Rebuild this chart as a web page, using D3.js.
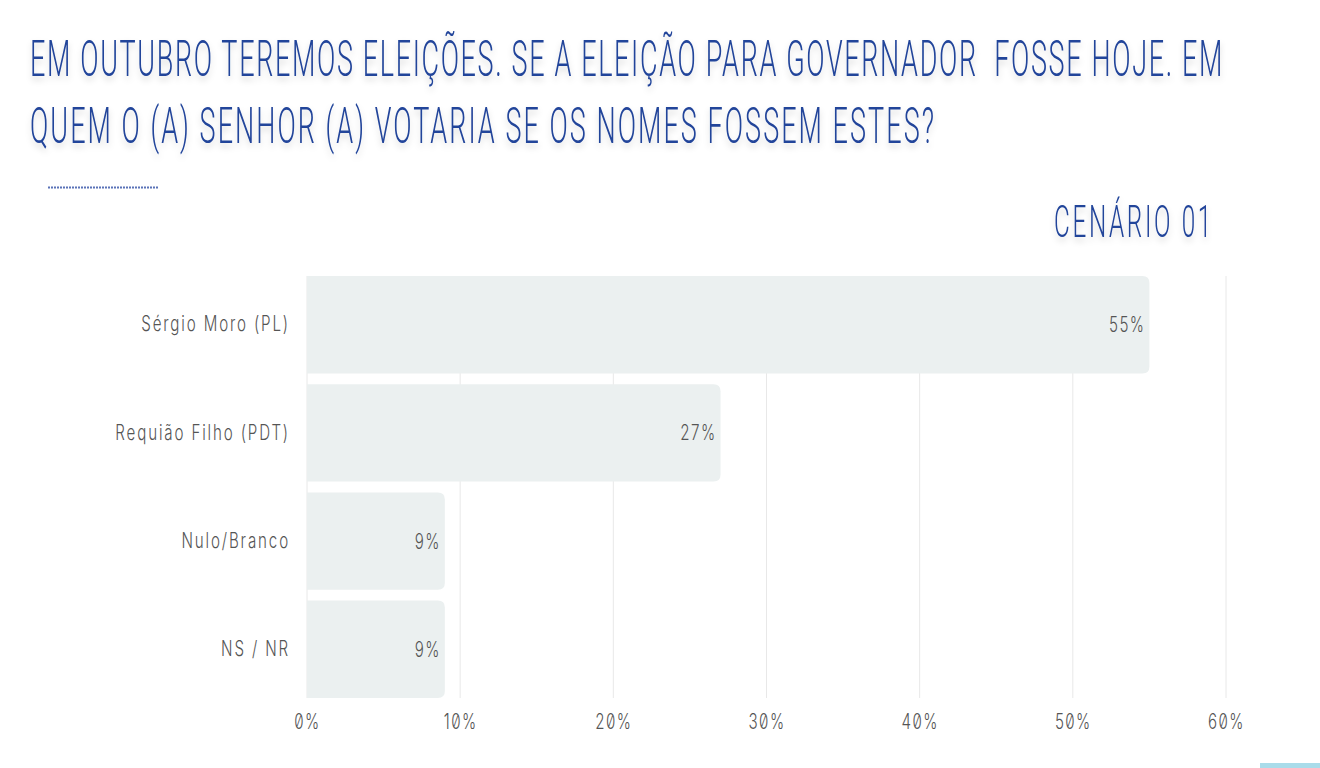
<!DOCTYPE html>
<html>
<head>
  <meta charset="utf-8">
  <title>cenario 01</title>
  <script src="https://cdn.jsdelivr.net/npm/d3@7"></script>
  <style>
    body{ margin:0; background:#fff; }
    svg{ display:block; }
    text{ white-space: pre; }
    .small{
      font-family: Inter, Roboto, sans-serif;
      font-weight: 300;
      font-size: 21px;
      font-feature-settings: "zero" 1;
    }
  </style>
</head>
<body>
<div id="container"></div>
<script>
  // dados
  var categories = ["Sérgio Moro (PL)", "Requião Filho (PDT)", "Nulo/Branco", "NS / NR"];
  var values = [55, 27, 9, 9];
  var ticks = [0, 10, 20, 30, 40, 50, 60];
  var titleLines = ["EM OUTUBRO TEREMOS ELEIÇÕES. SE A ELEIÇÃO PARA GOVERNADOR  FOSSE HOJE. EM",
                    "QUEM O (A) SENHOR (A) VOTARIA SE OS NOMES FOSSEM ESTES?"];
  var subtitle = "CENÁRIO 01";

  var W = 1320, H = 768;
  var margin = {top: 276, right: 94, bottom: 70, left: 307};
  var width = W - margin.left - margin.right,
      height = H - margin.top - margin.bottom;
  var sx = 0.72;   // fonte estreita: glifos comprimidos na horizontal

  var svg = d3.select("#container").append("svg")
      .attr("width", W).attr("height", H);

  var defs = svg.append("defs");
  var f = defs.append("filter").attr("id","shadow")
      .attr("filterUnits","userSpaceOnUse")
      .attr("x",0).attr("y",0).attr("width",W).attr("height",300);
  f.append("feDropShadow").attr("dx",0).attr("dy",4).attr("stdDeviation",3)
      .attr("flood-color","#000").attr("flood-opacity",0.16);

  var blue = "#21449a";

  // ajusta o espaçamento para a largura desejada
  function fit(node, target, s){
    var t = d3.select(node).style("letter-spacing","0px");
    var w = node.getComputedTextLength();
    var n = t.text().length;
    var ls = (target / s - w) / n;
    t.style("letter-spacing", ls + "px");
  }

  // titulo
  var tw = [1194, 906];
  var tg = svg.append("g").attr("filter","url(#shadow)");
  tg.selectAll("text.title").data(titleLines).enter().append("text")
      .attr("class","title")
      .attr("transform", function(d,i){ return "translate(30," + (76 + i*67) + ") scale(0.54,1)"; })
      .style("font-family","Roboto")
      .style("font-weight","300")
      .style("font-size","50px")
      .attr("fill", blue)
      .text(function(d){ return d; })
      .each(function(d,i){ fit(this, tw[i], 0.54); });

  tg.append("text")
    .attr("transform","translate(1054,237) scale(0.54,1)")
    .style("font-family","Roboto")
    .style("font-weight","300")
    .style("font-size","45px")
    .attr("fill", blue)
    .text(subtitle)
    .each(function(){ fit(this, 160, 0.54); });

  svg.append("line")
    .attr("x1",48).attr("x2",158).attr("y1",187.5).attr("y2",187.5)
    .attr("stroke","#5a73b8").attr("stroke-width",2)
    .attr("stroke-dasharray","2,1");

  var xScale = d3.scaleLinear().domain([0,60]).range([0,width]);
  var yScale = d3.scaleBand().domain(categories).range([0,height]).paddingInner(0.1).paddingOuter(0);

  var group = svg.append("g")
      .attr("transform","translate(" + margin.left + "," + margin.top + ")");

  // grade
  group.selectAll(".grid").data(ticks).enter().append("line")
    .attr("class","grid")
    .attr("x1", function(d){ return xScale(d); })
    .attr("x2", function(d){ return xScale(d); })
    .attr("y1", 0).attr("y2", height)
    .attr("stroke","#e8e8e8").attr("stroke-width",1);

  // barras (cantos arredondados só à direita)
  var r = 7;
  function barPath(d, i){
    var w = xScale(values[i]), y0 = yScale(d), h = yScale.bandwidth();
    return "M0," + y0 + "H" + (w - r) + "Q" + w + "," + y0 + " " + w + "," + (y0 + r) +
           "V" + (y0 + h - r) + "Q" + w + "," + (y0 + h) + " " + (w - r) + "," + (y0 + h) +
           "H0Z";
  }
  group.selectAll(".bar").data(categories).enter().append("path")
    .attr("class","bar")
    .attr("d", barPath)
    .attr("fill","#ebf0f0");

  group.selectAll(".val").data(categories).enter().append("text")
    .attr("class","val small")
    .attr("transform","scale(" + sx + ",1)")
    .attr("x", function(d,i){ return (xScale(values[i]) - 4) / sx; })
    .attr("y", function(d){ return yScale(d) + yScale.bandwidth()/2; })
    .attr("dy","0.36em")
    .attr("text-anchor","end")
    .style("letter-spacing","2px")
    .attr("fill","#555")
    .text(function(d,i){ return values[i] + "%"; });

  // eixo y
  var yAxis = d3.axisLeft(yScale).tickSize(0).tickPadding(17);
  var yg = group.append("g").call(yAxis);
  yg.select(".domain").remove();
  yg.selectAll(".tick text")
    .attr("class","small")
    .attr("transform","scale(" + sx + ",1)")
    .attr("x", -17 / sx)
    .style("letter-spacing","2.6px")
    .attr("fill","#555");

  // eixo x
  var xAxis = d3.axisBottom(xScale).tickValues(ticks).tickSize(0).tickPadding(16)
    .tickFormat(function(d){ return d + "%"; });
  var xg = group.append("g").attr("transform","translate(0," + height + ")").call(xAxis);
  xg.select(".domain").remove();
  xg.selectAll(".tick text")
    .attr("class","small")
    .attr("transform","scale(" + sx + ",1)")
    .style("letter-spacing","2px")
    .attr("fill","#555");

  svg.append("rect")
    .attr("x",1260).attr("y",763).attr("width",60).attr("height",5)
    .attr("fill","#a9dcea");
</script>
</body>
</html>
